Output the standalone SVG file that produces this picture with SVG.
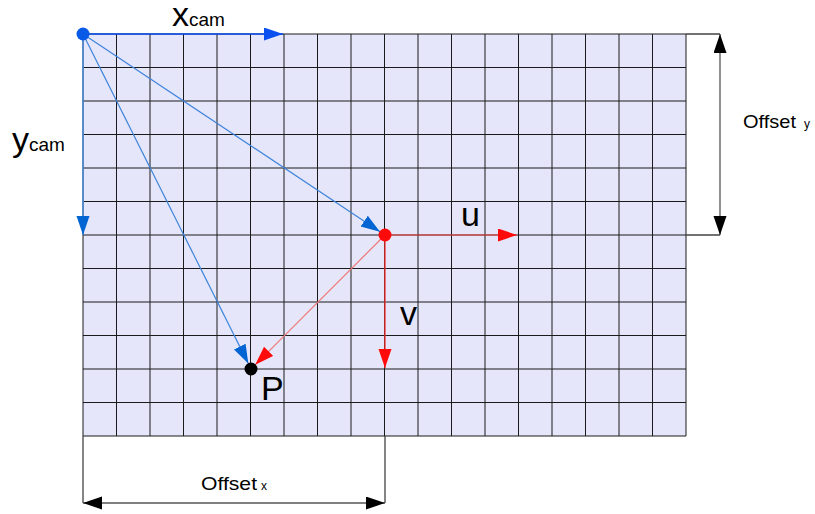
<svg xmlns="http://www.w3.org/2000/svg" width="815" height="514" viewBox="0 0 815 514">
  <style>
    .lbl { font-family: "Liberation Sans", Arial, sans-serif; fill: #000; }
    .big { font-size: 34px; }
    .sub { font-size: 19px; }
    .dim { font-size: 18.5px; }
    .dsub { font-size: 12px; }
    .grid { stroke: #1a1a1a; stroke-width: 1; fill: none; }
    .ext { stroke: #444; stroke-width: 1.3; fill: none; }
  </style>
  <defs>
    <marker id="ah-blue" markerUnits="userSpaceOnUse" markerWidth="20" markerHeight="14" refX="19" refY="6.5" orient="auto">
      <path d="M0,0 L19,6.5 L0,13 z" fill="#0a4ff0"/>
    </marker>
    <marker id="ah-blue2" markerUnits="userSpaceOnUse" markerWidth="20" markerHeight="14" refX="19" refY="6.5" orient="auto">
      <path d="M0,0 L19,6.5 L0,13 z" fill="#0064d2"/>
    </marker>
    <marker id="ah-red" markerUnits="userSpaceOnUse" markerWidth="20" markerHeight="14" refX="19" refY="6.5" orient="auto">
      <path d="M0,0 L19,6.5 L0,13 z" fill="#ff0a0a"/>
    </marker>
    <marker id="ah-black" markerUnits="userSpaceOnUse" markerWidth="20" markerHeight="14" refX="19" refY="6.5" orient="auto-start-reverse">
      <path d="M0,0 L19,6.5 L0,13 z" fill="#000"/>
    </marker>
  </defs>

  <g id="grid">
    <rect x="83" y="34" width="603" height="402" fill="#e6e6fa"/>
    <path class="grid" d="M83,34V436 M116.5,34V436 M150,34V436 M183.5,34V436 M217,34V436 M250.5,34V436 M284,34V436 M317.5,34V436 M351,34V436 M384.5,34V436 M418,34V436 M451.5,34V436 M485,34V436 M518.5,34V436 M552,34V436 M585.5,34V436 M619,34V436 M652.5,34V436 M686,34V436
      M83,34H686 M83,67.5H686 M83,101H686 M83,134.5H686 M83,168H686 M83,201.5H686 M83,235H686 M83,268.5H686 M83,302H686 M83,335.5H686 M83,369H686 M83,402.5H686 M83,436H686"/>
  </g>

  <g id="connectors">
    <line x1="83" y1="34" x2="283" y2="34" stroke="#0a4ff0" stroke-width="1.5" marker-end="url(#ah-blue)"/>
    <line x1="83" y1="34" x2="83" y2="235" stroke="#4a8ee0" stroke-width="1.5" marker-end="url(#ah-blue2)"/>
    <line x1="83" y1="34" x2="380" y2="231.7" stroke="#3c84dc" stroke-width="1.2" marker-end="url(#ah-blue2)"/>
    <line x1="83" y1="34" x2="248.3" y2="363.6" stroke="#3c84dc" stroke-width="1.2" marker-end="url(#ah-blue2)"/>
    <line x1="385" y1="235" x2="517" y2="235" stroke="#ff4040" stroke-width="1.2" marker-end="url(#ah-red)"/>
    <line x1="385" y1="235" x2="385" y2="368" stroke="#ff3030" stroke-width="1.3" marker-end="url(#ah-red)"/>
    <line x1="385" y1="235" x2="255.2" y2="364.8" stroke="#f07878" stroke-width="1.2" marker-end="url(#ah-red)"/>
    <path class="ext" d="M686,34H720 M686,235H720 M83,436V503 M385,436V503"/>
    <line x1="720" y1="34" x2="720" y2="235" stroke="#555" stroke-width="1.3" marker-start="url(#ah-black)" marker-end="url(#ah-black)"/>
    <line x1="83" y1="503" x2="385" y2="503" stroke="#555" stroke-width="1.3" marker-start="url(#ah-black)" marker-end="url(#ah-black)"/>
  </g>

  <g id="camera-origin">
    <circle cx="83" cy="34" r="6.5" fill="#0a5ae8"/>
  </g>
  <g id="center">
    <circle cx="385" cy="235" r="6.5" fill="#ff0a0a"/>
  </g>
  <g id="point-P">
    <circle cx="251" cy="369" r="6.5" fill="#000"/>
    <text class="lbl big" x="261" y="400">P</text>
  </g>

  <g id="labels">
    <text class="lbl" x="172" y="25.5"><tspan class="big">x</tspan><tspan class="sub">cam</tspan></text>
    <text class="lbl" x="12" y="151"><tspan class="big">y</tspan><tspan class="sub">cam</tspan></text>
    <text class="lbl big" x="461" y="225.5">u</text>
    <text class="lbl big" x="400" y="325">v</text>
    <text class="lbl dim" x="743" y="128" textLength="53" lengthAdjust="spacingAndGlyphs">Offset</text>
    <text class="lbl dsub" x="804" y="128">y</text>
    <text class="lbl dim" x="201" y="489.5" textLength="56" lengthAdjust="spacingAndGlyphs">Offset</text>
    <text class="lbl dsub" x="261" y="489.5">x</text>
  </g>
</svg>
